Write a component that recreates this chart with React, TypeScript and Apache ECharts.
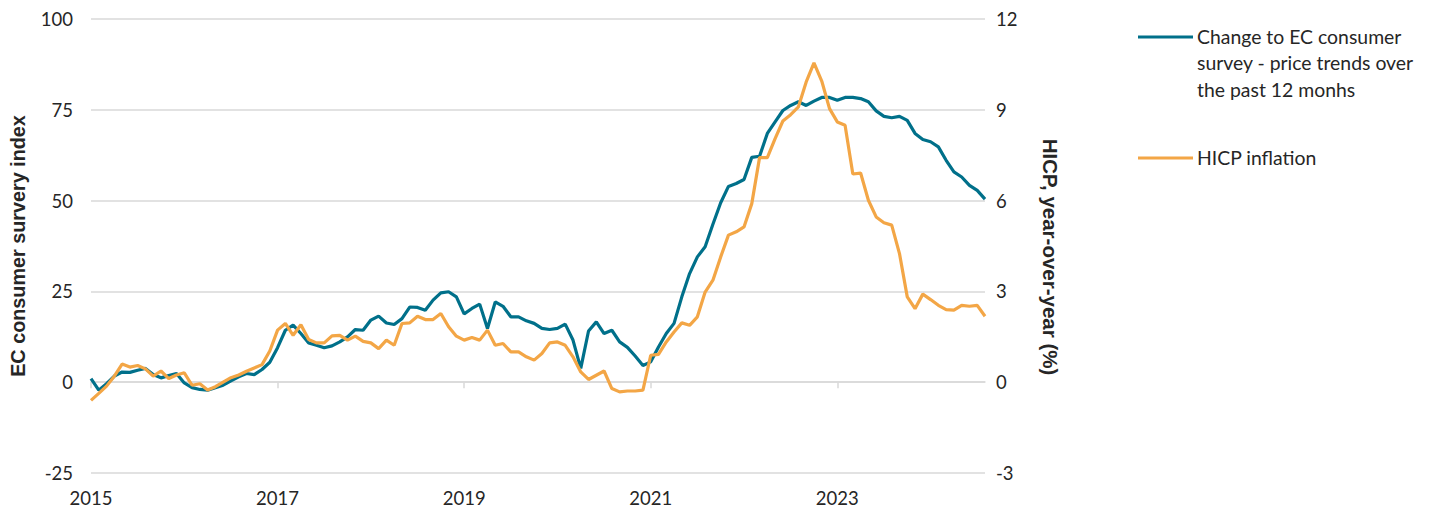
import React, { useEffect, useRef } from "react";
import * as echarts from "echarts";

// Monthly categories, Jan 2015 .. Aug 2024
const startYear = 2015;
const monthCount = 116;
const months: string[] = [];
for (let i = 0; i < monthCount; i++) {
  const y = startYear + Math.floor(i / 12);
  const m = (i % 12) + 1;
  months.push(`${y}-${m < 10 ? "0" + m : m}`);
}

const surveyName = "Change to EC consumer survey - price trends over the past 12 monhs";
const hicpName = "HICP inflation";

// EC consumer survey index (left axis)
const surveyValues: number[] = [
  1.0, -2.2, -0.4, 1.7, 2.8, 2.7, 3.3, 3.8, 2.1, 1.2, 1.8, 2.4,
  -0.2, -1.5, -2.0, -2.2, -1.5, -0.8, 0.4, 1.5, 2.4, 2.1, 3.5, 5.5,
  9.5, 14.3, 15.7, 13.4, 10.8, 10.2, 9.5, 10.0, 11.1, 12.5, 14.5, 14.3,
  17.1, 18.2, 16.3, 15.9, 17.5, 20.7, 20.6, 19.8, 22.6, 24.6, 24.9, 23.5,
  18.8, 20.3, 21.5, 14.8, 22.1, 20.9, 18.0, 18.0, 16.9, 16.2, 14.8, 14.5,
  14.8, 16.0, 11.6, 3.8, 14.1, 16.6, 13.4, 14.3, 11.1, 9.6, 7.2, 4.6,
  5.6, 9.7, 13.4, 16.2, 23.5, 29.9, 34.5, 37.3, 43.5, 49.4, 53.9, 54.7,
  55.8, 61.9, 62.2, 68.5, 71.7, 74.8, 76.2, 77.2, 76.2, 77.4, 78.4, 78.4,
  77.6, 78.4, 78.4, 78.1, 77.2, 74.7, 73.2, 72.8, 73.2, 72.1, 68.5, 66.8,
  66.2, 64.8, 61.1, 57.9, 56.5, 54.2, 52.8, 50.4,
];

// HICP inflation, % y/y (right axis)
const hicpValues: number[] = [
  -0.6, -0.37, -0.13, 0.2, 0.6, 0.5, 0.55, 0.44, 0.2, 0.37, 0.12, 0.24,
  0.31, -0.1, -0.05, -0.26, -0.15, 0.0, 0.15, 0.24, 0.36, 0.47, 0.58, 1.03,
  1.72, 1.94, 1.55, 1.9, 1.41, 1.3, 1.3, 1.53, 1.55, 1.39, 1.52, 1.35,
  1.3, 1.11, 1.39, 1.22, 1.94, 1.96, 2.18, 2.07, 2.07, 2.27, 1.83, 1.52,
  1.39, 1.48, 1.39, 1.72, 1.22, 1.28, 1.0, 1.0, 0.84, 0.73, 0.95, 1.3,
  1.33, 1.22, 0.84, 0.34, 0.09, 0.23, 0.37, -0.21, -0.32, -0.29, -0.29, -0.26,
  0.89, 0.92, 1.33, 1.66, 1.96, 1.88, 2.16, 2.98, 3.37, 4.14, 4.86, 4.97,
  5.13, 5.9, 7.42, 7.42, 8.05, 8.63, 8.84, 9.1, 9.92, 10.55, 9.95, 9.04,
  8.6, 8.49, 6.88, 6.91, 6.01, 5.46, 5.27, 5.19, 4.25, 2.82, 2.43, 2.91,
  2.73, 2.54, 2.4, 2.38, 2.54, 2.51, 2.54, 2.18,
];

const leftTitle = "EC consumer survery index";
const rightTitle = "HICP, year-over-year (%)";

const TEAL = "#00708A";
const ORANGE = "#F3A646";
const GRID = "#D9D9D9";
const TEXT = "#262626";
const FONT = "Lato";
const TITLE_FONT = "Liberation Sans";

export default function App() {
  const ref = useRef<HTMLDivElement>(null);
  useEffect(() => {
    if (!ref.current) return;
    const chart = echarts.init(ref.current, undefined, { renderer: "svg" });
    chart.setOption({
      animation: false,
      backgroundColor: "#fff",
      textStyle: { fontFamily: FONT },
      grid: { left: 90, right: 449, top: 19, bottom: 37, containLabel: false },
      xAxis: [
        {
          type: "category",
          data: months,
          boundaryGap: false,
          position: "bottom",
          axisLine: { show: true, onZero: true, onZeroAxisIndex: 0, lineStyle: { color: GRID, width: 1.5 } },
          axisTick: { show: true, interval: 23, length: 6, lineStyle: { color: GRID, width: 1.5 } },
          axisLabel: { show: false },
          splitLine: { show: false },
        },
        {
          type: "category",
          data: months,
          boundaryGap: false,
          position: "bottom",
          axisLine: { show: false, onZero: false },
          axisTick: { show: false },
          axisLabel: {
            show: true,
            interval: 23,
            margin: 15,
            color: TEXT,
            fontSize: 18.5,
            fontFamily: FONT,
            formatter: (v: string) => v.slice(0, 4),
          },
          splitLine: { show: false },
        },
      ],
      yAxis: [
        {
          type: "value",
          min: -25,
          max: 100,
          interval: 25,
          position: "left",
          name: leftTitle,
          nameLocation: "middle",
          nameGap: 63,
          nameTextStyle: { color: TEXT, fontSize: 19.8, fontWeight: "bold", fontFamily: TITLE_FONT },
          axisLine: { show: false },
          axisTick: { show: false },
          axisLabel: { color: TEXT, fontSize: 18.5, margin: 18, fontFamily: FONT },
          splitLine: { show: true, lineStyle: { color: GRID, width: 1.5 } },
        },
        {
          type: "value",
          min: -3,
          max: 12,
          interval: 3,
          position: "right",
          name: rightTitle,
          nameLocation: "middle",
          nameRotate: -90,
          nameGap: 55,
          nameTextStyle: {
            color: TEXT,
            fontSize: 20.5,
            fontWeight: "bold",
            fontFamily: TITLE_FONT,
            padding: [0, 0, 0, 22],
          },
          axisLine: { show: false },
          axisTick: { show: false },
          axisLabel: { color: TEXT, fontSize: 18.5, margin: 11, fontFamily: FONT },
          splitLine: { show: false },
        },
      ],
      series: [
        {
          name: surveyName,
          type: "line",
          xAxisIndex: 0,
          yAxisIndex: 0,
          data: surveyValues,
          showSymbol: false,
          symbol: "none",
          lineStyle: { color: TEAL, width: 3.2 },
          itemStyle: { color: TEAL },
          z: 2,
        },
        {
          name: hicpName,
          type: "line",
          xAxisIndex: 0,
          yAxisIndex: 1,
          data: hicpValues,
          showSymbol: false,
          symbol: "none",
          lineStyle: { color: ORANGE, width: 3.2 },
          itemStyle: { color: ORANGE },
          z: 3,
        },
      ],
      graphic: [
        {
          type: "line",
          shape: { x1: 1138, y1: 37, x2: 1193, y2: 37 },
          style: { stroke: TEAL, lineWidth: 3.2 },
        },
        {
          type: "text",
          x: 1197,
          y: 23,
          style: {
            text: "Change to EC consumer\nsurvey - price trends over\nthe past 12 monhs",
            fill: TEXT,
            font: `19.4px ${FONT}`,
            lineHeight: 26.5,
            verticalAlign: "top",
          },
        },
        {
          type: "line",
          shape: { x1: 1138, y1: 158, x2: 1193, y2: 158 },
          style: { stroke: ORANGE, lineWidth: 3.2 },
        },
        {
          type: "text",
          x: 1197,
          y: 144,
          style: {
            text: hicpName,
            fill: TEXT,
            font: `19.4px ${FONT}`,
            lineHeight: 26.5,
            verticalAlign: "top",
          },
        },
      ],
    });
    return () => chart.dispose();
  }, []);
  return (
    <div
      ref={ref}
      style={{ position: "fixed", left: 0, top: 0, width: 1434, height: 510, background: "#fff" }}
    />
  );
}
